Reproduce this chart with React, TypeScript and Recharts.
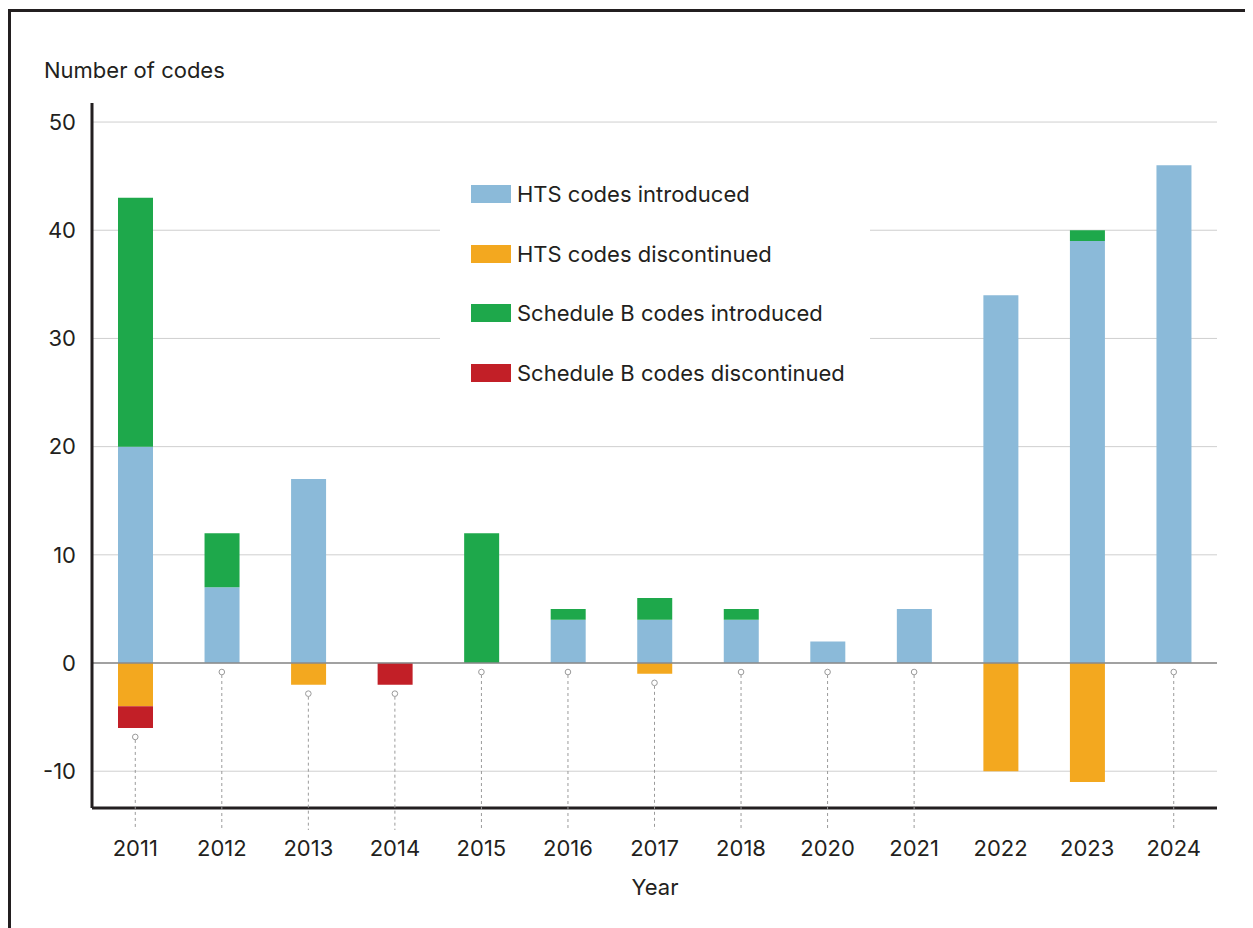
import { Bar, CartesianGrid, ComposedChart, ReferenceLine, Scatter, XAxis, YAxis } from "recharts";

const years = ["2011", "2012", "2013", "2014", "2015", "2016", "2017", "2018", "2020", "2021", "2022", "2023", "2024"];
const htsIntroduced = [20, 7, 17, 0, 0, 4, 4, 4, 2, 5, 34, 39, 46];
const htsDiscontinued = [-4, 0, -2, 0, 0, 0, -1, 0, 0, 0, -10, -11, 0];
const schedBIntroduced = [23, 5, 0, 0, 12, 1, 2, 1, 0, 0, 0, 1, 0];
const schedBDiscontinued = [-2, 0, 0, -2, 0, 0, 0, 0, 0, 0, 0, 0, 0];
// years whose leader line is drawn under the bar
const hasLeader = [true, true, true, true, true, true, true, true, true, true, false, false, true];
const yTicks = [-10, 0, 10, 20, 30, 40, 50];

const series = [
  { key: "htsIn", name: "HTS codes introduced", color: "#8bbad9" },
  { key: "htsOut", name: "HTS codes discontinued", color: "#f3a81f" },
  { key: "sbIn", name: "Schedule B codes introduced", color: "#1ea84b" },
  { key: "sbOut", name: "Schedule B codes discontinued", color: "#c21f27" },
];

const data = years.map((year, i) => ({
  year,
  htsIn: htsIntroduced[i],
  htsOut: htsDiscontinued[i],
  sbIn: schedBIntroduced[i],
  sbOut: schedBDiscontinued[i],
  bottom: hasLeader[i] ? Math.min(0, htsDiscontinued[i] + schedBDiscontinued[i]) : null,
}));

const FONT = "Inter, 'Noto Sans', sans-serif";
const TEXT = "#231f20";
const LEADER_END_Y = 822;

const Leader = (props: any) => {
  const { cx, cy } = props;
  if (cx == null || cy == null) return null;
  return (
    <g>
      <line x1={cx} x2={cx} y1={cy + 12} y2={LEADER_END_Y} stroke="#9a9a9a" strokeWidth={1} strokeDasharray="3 3" />
      <circle cx={cx} cy={cy + 9} r={2.8} fill="#fff" stroke="#9a9a9a" strokeWidth={1} />
    </g>
  );
};

export default function App() {
  return (
    <div style={{ position: "relative", width: 1245, height: 920, overflow: "hidden", fontFamily: FONT, color: TEXT }}>
      <div
        style={{
          position: "absolute",
          left: 0,
          top: 1,
          width: 1400,
          height: 1100,
          borderTop: "3px solid #231f20",
          borderLeft: "3px solid #231f20",
        }}
      />
      <div style={{ position: "absolute", left: 36, top: 49, fontSize: 22 }}>Number of codes</div>
      <ComposedChart
        width={1245}
        height={920}
        data={data}
        stackOffset="sign"
        margin={{ top: 95, right: 36, bottom: 0, left: 24 }}
        style={{ position: "absolute", left: 0, top: 0 }}
      >
        <CartesianGrid horizontal vertical={false} horizontalValues={yTicks} stroke="#cfcfcf" strokeWidth={1} />
        <XAxis
          dataKey="year"
          height={120}
          tickLine={false}
          tickSize={0}
          tickMargin={32}
          axisLine={{ stroke: "#231f20", strokeWidth: 3 }}
          tick={{ fill: TEXT, fontSize: 22, fontFamily: FONT }}
        />
        <YAxis
          width={60}
          domain={[-13.4, 51.76]}
          ticks={yTicks}
          tickLine={false}
          tickSize={0}
          tickMargin={16}
          axisLine={{ stroke: "#231f20", strokeWidth: 3 }}
          tick={{ fill: TEXT, fontSize: 22, fontFamily: FONT }}
        />
        {series.map((s) => (
          <Bar key={s.key} dataKey={s.key} name={s.name} stackId="a" fill={s.color} barSize={35} isAnimationActive={false} />
        ))}
        <ReferenceLine y={0} stroke="#8a8a8a" strokeWidth={1.5} />
        <Scatter dataKey="bottom" shape={<Leader />} isAnimationActive={false} />
      </ComposedChart>
      <div
        style={{
          position: "absolute",
          left: 432,
          top: 160,
          width: 430,
          height: 232,
          background: "#fff",
        }}
      >
        {series.map((s) => s).map((s, i) => (
          <div
            key={s.key}
            style={{ position: "absolute", left: 31, top: 12 + i * 59.5, display: "flex", alignItems: "center", height: 28 }}
          >
            <div style={{ width: 40, height: 18, background: s.color, marginRight: 6 }} />
            <span style={{ fontSize: 22 }}>{s.name}</span>
          </div>
        ))}
      </div>
      <div style={{ position: "absolute", left: 597, top: 866, width: 100, textAlign: "center", fontSize: 22 }}>Year</div>
    </div>
  );
}
